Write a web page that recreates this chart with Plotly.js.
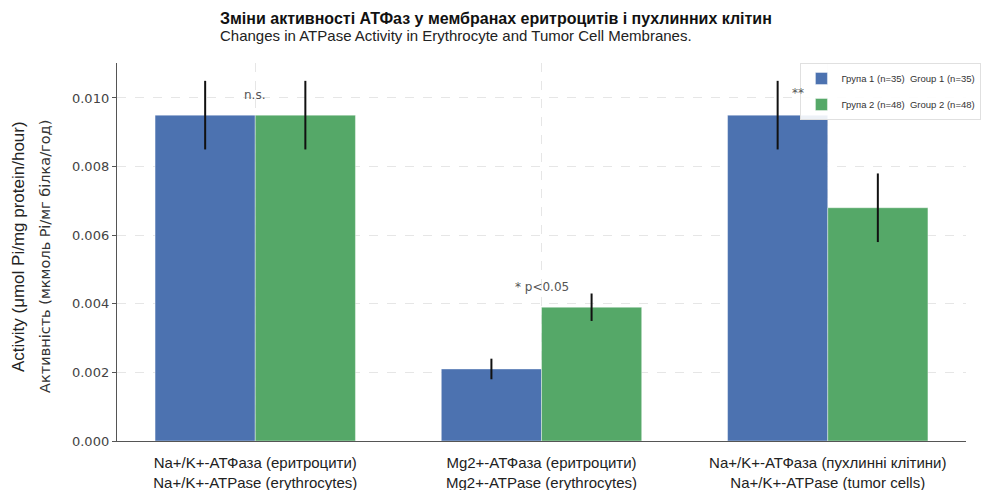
<!DOCTYPE html>
<html>
<head>
<meta charset="utf-8">
<script src="https://cdn.plot.ly/plotly-3.0.1.min.js"></script>
<style>html,body{margin:0;padding:0;background:#fff;}#chart{width:986px;height:490px;}</style>
</head>
<body>
<div id="chart"></div>
<script>
const categories = [
  "Na+/K+-АТФаза (еритроцити)<br>Na+/K+-ATPase (erythrocytes)",
  "Mg2+-АТФаза (еритроцити)<br>Mg2+-ATPase (erythrocytes)",
  "Na+/K+-АТФаза (пухлинні клітини)<br>Na+/K+-ATPase (tumor cells)"
];
const group1Name = "Група 1 (n=35)  Group 1 (n=35)";
const group2Name = "Група 2 (n=48)  Group 2 (n=48)";
const group1Values = [0.0095, 0.0021, 0.0095];
const group1Errors = [0.0010, 0.0003, 0.0010];
const group2Values = [0.0095, 0.0039, 0.0068];
const group2Errors = [0.0010, 0.0004, 0.0010];
const yTicks = [0, 0.002, 0.004, 0.006, 0.008, 0.010];
const yTickLabels = ["0.000", "0.002", "0.004", "0.006", "0.008", "0.010"];
const sigLabels = ["n.s.", "* p<0.05", "**"];
const sigX = [0, 1, 1.895];
const sigY = [0.01009, 0.00449, 0.01015];

const xIdx = categories.map((c, i) => i);

const traces = [
  {
    type: "bar", name: group1Name, x: xIdx, y: group1Values, legendgroup: "g1",
    marker: {color: "#4c72b0", line: {color: "rgba(255,255,255,0.5)", width: 0.8}},
    error_y: {type: "data", array: group1Errors, visible: true, color: "#111", thickness: 2, width: 0}
  },
  {
    type: "bar", name: group2Name, x: xIdx, y: group2Values, legendgroup: "g2",
    marker: {color: "#55a868", line: {color: "rgba(255,255,255,0.5)", width: 0.8}},
    error_y: {type: "data", array: group2Errors, visible: true, color: "#111", thickness: 2, width: 0}
  }
];

const annotations = sigLabels.map((t, i) => ({
  x: sigX[i], y: sigY[i], xref: "x", yref: "y", text: t, showarrow: false,
  font: {family: "DejaVu Sans", size: 12, color: "#555"}, xanchor: "center", yanchor: "middle"
}));

annotations.push(
  {xref: "paper", yref: "paper", x: 0.119, y: 1.119, xanchor: "left", yanchor: "middle", showarrow: false,
   text: "<b>Зміни активності АТФаз у мембранах еритроцитів і пухлинних клітин</b>",
   font: {family: "Liberation Sans", size: 16, color: "#111"}},
  {xref: "paper", yref: "paper", x: 0.119, y: 1.074, xanchor: "left", yanchor: "middle", showarrow: false,
   text: "Changes in ATPase Activity in Erythrocyte and Tumor Cell Membranes.",
   font: {family: "Liberation Sans", size: 15, color: "#222"}},
  {xref: "paper", yref: "paper", x: -0.1166, y: 0.513, xanchor: "center", yanchor: "middle", showarrow: false,
   textangle: -90, text: "Activity (μmol Pi/mg protein/hour)",
   font: {family: "Liberation Sans", size: 17, color: "#222"}},
  {xref: "paper", yref: "paper", x: -0.0848, y: 0.487, xanchor: "center", yanchor: "middle", showarrow: false,
   textangle: -90, text: "Активність (мкмоль Pi/мг білка/год)",
   font: {family: "DejaVu Sans", size: 14.5, color: "#333"}}
);

const layout = {
  width: 986, height: 490,
  margin: {l: 117, r: 20, t: 63, b: 49, pad: 0, autoexpand: false},
  paper_bgcolor: "#fff", plot_bgcolor: "#fff",
  barmode: "group", bargap: 0.3, bargroupgap: 0,
  showlegend: true,
  legend: {
    x: 0.805, y: 1.0, xanchor: "left", yanchor: "top",
    bgcolor: "rgba(255,255,255,0.9)", bordercolor: "#e0e0e0", borderwidth: 1,
    font: {family: "Liberation Sans", size: 9.5, color: "#333"},
    itemwidth: 30, tracegroupgap: 7
  },
  xaxis: {
    range: [-0.483, 2.483], tickmode: "array", tickvals: xIdx, ticktext: categories,
    showline: true, linecolor: "#555", linewidth: 1.2,
    ticks: "", ticklabelstandoff: 8, showgrid: true, gridcolor: "#e6e6e6", griddash: "dash", gridwidth: 1,
    tickfont: {family: "Liberation Sans", size: 15, color: "#222"}, zeroline: false
  },
  yaxis: {
    range: [0, 0.01102], tickmode: "array", tickvals: yTicks, ticktext: yTickLabels,
    showline: true, linecolor: "#555", linewidth: 1.2,
    ticks: "outside", ticklen: 4, tickcolor: "#555",
    showgrid: true, gridcolor: "#e6e6e6", griddash: "dash", gridwidth: 1,
    tickfont: {family: "DejaVu Sans", size: 13, color: "#444"}, zeroline: false
  },
  annotations: annotations
};

Plotly.newPlot("chart", traces, layout, {displayModeBar: false, staticPlot: true});
</script>
</body>
</html>
